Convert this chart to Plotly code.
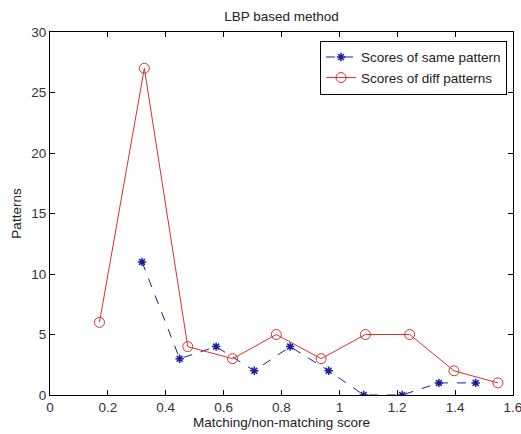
import plotly.graph_objects as go

same_x = [0.318, 0.448, 0.574, 0.706, 0.830, 0.963, 1.084, 1.217, 1.344, 1.471]
same_y = [11, 3, 4, 2, 4, 2, 0, 0, 1, 1]
diff_x = [0.171, 0.326, 0.476, 0.631, 0.782, 0.937, 1.090, 1.243, 1.396, 1.548]
diff_y = [6, 27, 4, 3, 5, 3, 5, 5, 2, 1]
x_ticks = [0, 0.2, 0.4, 0.6, 0.8, 1, 1.2, 1.4, 1.6]
x_labels = ["0", "0.2", "0.4", "0.6", "0.8", "1", "1.2", "1.4", "1.6"]

font = "Liberation Sans, Arial, sans-serif"
fig = go.Figure()
fig.add_trace(go.Scatter(x=same_x, y=same_y, mode="lines+markers",
                         name="Scores of same pattern",
                         line=dict(color="#1a1aa0", width=1, dash="dash"),
                         marker=dict(symbol="asterisk-open", size=7,
                                     line=dict(color="#0000ff", width=1.5))))
fig.add_trace(go.Scatter(x=diff_x, y=diff_y, mode="lines+markers",
                         name="Scores of diff patterns",
                         line=dict(color="#d83030", width=1),
                         marker=dict(symbol="circle-open", size=10,
                                     line=dict(color="#d83030", width=1))))
axis_common = dict(showline=True, linecolor="black", linewidth=1, mirror="ticks",
                   ticks="inside", ticklen=5, tickcolor="black", showgrid=False,
                   zeroline=False, tickfont=dict(size=13.5, color="#333"),
                   ticklabeloverflow="allow", automargin=False)
fig.update_layout(
    width=521, height=434,
    margin=dict(l=50, r=8, t=32, b=39),
    paper_bgcolor="white", plot_bgcolor="white",
    font=dict(family=font, size=13.5, color="#222"),
    title=dict(text="LBP based method", xref="paper", x=0.5, xanchor="center",
               y=1 - 16/434, yanchor="middle", font=dict(size=13.5)),
    xaxis=dict(range=[0, 1.6], tickvals=x_ticks, ticktext=x_labels,
               title=dict(text="Matching/non-matching score", standoff=2, font=dict(size=13.5)),
               **axis_common),
    yaxis=dict(range=[0, 30], dtick=5,
               title=dict(text="Patterns", standoff=6, font=dict(size=13.5)),
               **axis_common),
    legend=dict(x=0.987, y=0.976, xanchor="right", yanchor="top",
                bordercolor="black", borderwidth=1, bgcolor="white",
                font=dict(size=13.5), tracegroupgap=0, itemwidth=30),
)
fig.write_html("out.html")
